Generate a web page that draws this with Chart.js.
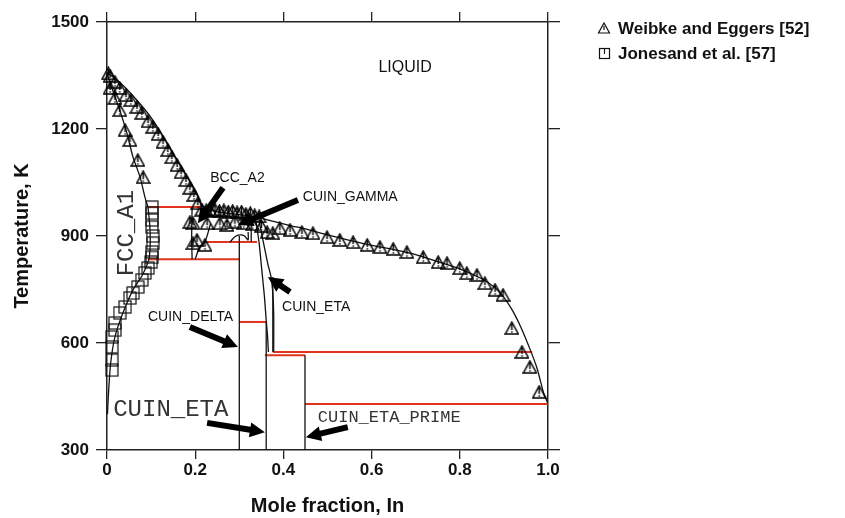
<!DOCTYPE html>
<html>
<head>
<meta charset="utf-8">
<script src="https://cdn.jsdelivr.net/npm/chart.js@4/dist/chart.umd.min.js"></script>
<style>
	html, body { margin: 0; padding: 0; background: #fff; }
	#wrap { position: relative; width: 845px; height: 518px; }
</style>
</head>
<body>
<div id="wrap"><canvas id="chart" width="845" height="518"></canvas></div>
<script>
// axis ticks
const xTicks = [0, 0.2, 0.4, 0.6, 0.8, 1.0];
const yTicks = [300, 600, 900, 1200, 1500];

// Weibke and Eggers [52] - triangles
const weibkeX = [
	0.003, 0.007, 0.018, 0.029, 0.043, 0.054, 0.068, 0.079, 0.093, 0.104, 0.116, 0.127, 0.138, 0.147, 0.159, 0.168, 0.179, 0.188, 0.197, 0.206,
	0.007, 0.018, 0.029, 0.041, 0.052, 0.070, 0.082,
	0.188, 0.195, 0.195, 0.222, 0.204,
	0.215, 0.225, 0.235, 0.245, 0.255, 0.265, 0.275, 0.285, 0.295, 0.305, 0.315, 0.325, 0.335, 0.345,
	0.227, 0.256, 0.272, 0.29, 0.31, 0.33, 0.35, 0.363, 0.376,
	0.392, 0.415, 0.442, 0.467, 0.499, 0.528, 0.558, 0.590, 0.619, 0.649, 0.680, 0.717, 0.751, 0.771, 0.800,
	0.816, 0.839, 0.857, 0.880, 0.898, 0.918, 0.941, 0.959, 0.980
];
const weibkeT = [
	1356, 1349, 1332, 1315, 1295, 1281, 1262, 1245, 1222, 1206, 1186, 1164, 1141, 1121, 1099, 1079, 1057, 1035, 1015, 992,
	1315, 1287, 1253, 1197, 1169, 1113, 1065,
	939, 936, 880, 875, 889,
	974, 972, 970, 974, 970, 972, 968, 970, 966, 968, 962, 964, 958, 955,
	936, 936, 931, 940, 936, 933, 928, 911, 908,
	922, 917, 911, 908, 897, 889, 883, 875, 869, 864, 855, 841, 827, 824, 810,
	796, 791, 768, 749, 735, 642, 575, 533, 463
];

// Jones et al. [57] - squares
const jonesX = [0.102, 0.102, 0.102, 0.102, 0.104, 0.104, 0.102, 0.102, 0.100, 0.093, 0.086, 0.079, 0.070, 0.059, 0.052, 0.041, 0.029, 0.018, 0.018, 0.011, 0.011, 0.011, 0.011];
const jonesT = [981, 964, 945, 925, 900, 880, 855, 840, 827, 810, 796, 777, 757, 740, 726, 701, 684, 656, 636, 617, 589, 552, 524];

// calculated phase boundaries
const liquidusX = [0, 0.02, 0.05, 0.1, 0.136, 0.172, 0.204, 0.215, 0.25, 0.3, 0.34, 0.38, 0.42, 0.45, 0.5, 0.55, 0.6, 0.65, 0.7, 0.75, 0.8, 0.85, 0.88, 0.9, 0.92, 0.94, 0.96, 0.975, 0.99, 1.0];
const liquidusT = [1358, 1340, 1305, 1232, 1161, 1085, 1020, 985, 968, 960, 953, 940, 928, 920, 903, 888, 874, 862, 848, 828, 808, 780, 755, 728, 690, 640, 580, 530, 460, 430];
const fccSolidusX = [0, 0.007, 0.029, 0.045, 0.059, 0.075, 0.086, 0.093];
const fccSolidusT = [1358, 1329, 1253, 1189, 1121, 1065, 1009, 981];
const fccSolvusX = [0.093, 0.097, 0.098, 0.095, 0.08, 0.059, 0.036, 0.018, 0.008, 0.003, 0.001];
const fccSolvusT = [981, 930, 880, 835, 790, 749, 684, 617, 540, 450, 400];
const bccLeftX = [0.193, 0.192, 0.193];
const bccLeftT = [981, 900, 835];
const bccRightX = [0.2, 0.21, 0.222, 0.235];
const bccRightT = [835, 868, 883, 935];
const gammaDomeX = [0.279, 0.29, 0.302, 0.312, 0.32, 0.32];
const gammaDomeT = [883, 898, 903, 900, 889, 911];
const gammaRightX = [0.327, 0.327];
const gammaRightT = [950, 883];
const deltaX = [0.30, 0.30];
const deltaT = [900, 300];
const etaLeftX = [0.338, 0.345, 0.351, 0.357, 0.361, 0.364, 0.366];
const etaLeftT = [940, 880, 805, 730, 664, 620, 575];
const etaLowX = [0.361, 0.361];
const etaLowT = [659, 300];
const etaRightX = [0.345, 0.355, 0.365, 0.372, 0.376, 0.378, 0.378];
const etaRightT = [940, 880, 820, 785, 740, 680, 575];
const etaEdgeX = [0.376, 0.376];
const etaEdgeT = [785, 575];
const etaPrimeX = [0.449, 0.449];
const etaPrimeT = [566, 300];

// invariant reactions (red)
const invariantT = [981, 883, 835, 659, 575, 566, 429];
const invariantFrom = [0.093, 0.218, 0.093, 0.30, 0.376, 0.358, 0.449];
const invariantTo = [0.21, 0.34, 0.30, 0.363, 0.964, 0.449, 1.0];

// phase labels and arrows, in data units
const labels = [
	{ text: 'LIQUID', x: 0.676, y: 1371, font: '16px "Liberation Sans", Arial, sans-serif', align: 'center' },
	{ text: 'BCC_A2', x: 0.234, y: 1063, font: '14px "Liberation Sans", Arial, sans-serif' },
	{ text: 'CUIN_GAMMA', x: 0.444, y: 1009, font: '14px "Liberation Sans", Arial, sans-serif' },
	{ text: 'CUIN_ETA', x: 0.397, y: 701, font: '14px "Liberation Sans", Arial, sans-serif' },
	{ text: 'CUIN_DELTA', x: 0.093, y: 673, font: '14px "Liberation Sans", Arial, sans-serif' },
	{ text: 'CUIN_ETA', x: 0.014, y: 412, font: '24px "Liberation Mono", monospace', color: '#333' },
	{ text: 'CUIN_ETA_PRIME', x: 0.478, y: 392, font: '17px "Liberation Mono", monospace', color: '#333' },
	{ text: 'FCC_A1', x: 0.045, y: 908, font: '24px "Liberation Mono", monospace', align: 'center', rotate: true, color: '#333' },
];
const arrows = [
	{ from: [0.263, 1035], to: [0.206, 936] },
	{ from: [0.433, 1001], to: [0.297, 931] },
	{ from: [0.415, 743], to: [0.365, 785] },
	{ from: [0.188, 645], to: [0.297, 589] },
	{ from: [0.227, 376], to: [0.358, 350] },
	{ from: [0.546, 364], to: [0.451, 336] },
];

const zip = (xs, ys) => xs.map((x, i) => ({ x, y: ys[i] }));
const FONT = '"Liberation Sans", Arial, Helvetica, sans-serif';

function triangleMark() {
	const c = document.createElement('canvas');
	c.width = 15; c.height = 14;
	const g = c.getContext('2d');
	g.strokeStyle = '#000';
	g.lineWidth = 1.5;
	g.beginPath(); g.moveTo(7.5, 1); g.lineTo(14, 13); g.lineTo(1, 13); g.closePath(); g.stroke();
	g.beginPath(); g.moveTo(7.5, 3); g.lineTo(7.5, 9); g.stroke();
	g.fillStyle = '#000';
	g.fillRect(6.8, 10.2, 1.5, 1.5);
	return c;
}

function squareMark() {
	const c = document.createElement('canvas');
	c.width = 14; c.height = 14;
	const g = c.getContext('2d');
	g.strokeStyle = '#111';
	g.lineWidth = 1.2;
	g.strokeRect(1, 1, 12, 12);
	return c;
}

function boundary(xs, ys) {
	return {
		type: 'line', data: zip(xs, ys), borderColor: '#111', borderWidth: 1.3,
		pointRadius: 0, tension: 0.25, fill: false, order: 2,
	};
}

const datasets = [
	{
		type: 'scatter', data: zip(weibkeX, weibkeT), pointStyle: triangleMark(),
		pointRadius: 7, order: 0, clip: false,
	},
	{
		type: 'scatter', data: zip(jonesX, jonesT), pointStyle: squareMark(),
		pointRadius: 7, order: 0, clip: false,
	},
	boundary(liquidusX, liquidusT),
	boundary(fccSolidusX, fccSolidusT),
	boundary(fccSolvusX, fccSolvusT),
	boundary(bccLeftX, bccLeftT),
	boundary(bccRightX, bccRightT),
	boundary(gammaDomeX, gammaDomeT),
	boundary(gammaRightX, gammaRightT),
	boundary(deltaX, deltaT),
	boundary(etaLeftX, etaLeftT),
	boundary(etaLowX, etaLowT),
	boundary(etaRightX, etaRightT),
	boundary(etaEdgeX, etaEdgeT),
	boundary(etaPrimeX, etaPrimeT),
];

invariantT.forEach((t, i) => {
	datasets.push({
		type: 'line', data: [{ x: invariantFrom[i], y: t }, { x: invariantTo[i], y: t }],
		borderColor: '#e2341d', borderWidth: 2, pointRadius: 0, order: 3,
	});
});

function drawArrow(ctx, x0, y0, x1, y1) {
	const ang = Math.atan2(y1 - y0, x1 - x0);
	const len = Math.hypot(x1 - x0, y1 - y0);
	const w = 6, h = 15, hw = 15;
	ctx.save();
	ctx.translate(x0, y0);
	ctx.rotate(ang);
	ctx.beginPath();
	ctx.moveTo(0, -w / 2);
	ctx.lineTo(len - h, -w / 2);
	ctx.lineTo(len - h, -hw / 2);
	ctx.lineTo(len, 0);
	ctx.lineTo(len - h, hw / 2);
	ctx.lineTo(len - h, w / 2);
	ctx.lineTo(0, w / 2);
	ctx.closePath();
	ctx.fillStyle = '#000';
	ctx.fill();
	ctx.restore();
}

const annotations = {
	id: 'annotations',
	afterDatasetsDraw(chart) {
		const { ctx, scales: { x, y } } = chart;
		ctx.save();
		arrows.forEach(a => {
			drawArrow(ctx, x.getPixelForValue(a.from[0]), y.getPixelForValue(a.from[1]),
				x.getPixelForValue(a.to[0]), y.getPixelForValue(a.to[1]));
		});
		ctx.textBaseline = 'middle';
		labels.forEach(l => {
			ctx.save();
			ctx.font = l.font;
			ctx.fillStyle = l.color || '#111';
			ctx.textAlign = l.align || 'left';
			ctx.translate(x.getPixelForValue(l.x), y.getPixelForValue(l.y));
			if (l.rotate) ctx.rotate(-Math.PI / 2);
			ctx.fillText(l.text, 0, 0);
			ctx.restore();
		});
		ctx.restore();
	}
};

const legendBox = {
	id: 'legendBox',
	afterDraw(chart) {
		const ctx = chart.ctx;
		ctx.save();
		ctx.strokeStyle = '#111';
		ctx.lineWidth = 1.2;
		// triangle glyph
		ctx.beginPath(); ctx.moveTo(604, 23); ctx.lineTo(609.5, 33); ctx.lineTo(598.5, 33); ctx.closePath(); ctx.stroke();
		ctx.beginPath(); ctx.moveTo(604, 26); ctx.lineTo(604, 30); ctx.stroke();
		// square glyph
		ctx.strokeRect(599.5, 48.5, 10, 10);
		ctx.beginPath(); ctx.moveTo(604.5, 49); ctx.lineTo(604.5, 54); ctx.stroke();
		ctx.fillStyle = '#111';
		ctx.font = 'bold 17px ' + FONT;
		ctx.textBaseline = 'middle';
		ctx.fillText('Weibke and Eggers [52]', 618, 29);
		ctx.fillText('Jonesand et al. [57]', 618, 54);
		ctx.restore();
	}
};

const tickFont = { family: FONT, size: 17, weight: 'bold' };
const axisColor = '#222';

new Chart(document.getElementById('chart'), {
	type: 'scatter',
	data: { datasets },
	options: {
		responsive: false,
		animation: false,
		plugins: { legend: { display: false }, tooltip: { enabled: false } },
		scales: {
			x: {
				type: 'linear', position: 'bottom', min: 0, max: 1,
				afterBuildTicks: s => { s.ticks = xTicks.map(v => ({ value: v })); },
				afterFit: s => { s.height = 68; },
				ticks: { font: tickFont, color: '#111', padding: 1, maxRotation: 0,
					callback: v => v === 0 ? '0' : v.toFixed(1) },
				grid: { drawOnChartArea: false, tickLength: 9, color: axisColor, lineWidth: 1.3 },
				border: { color: axisColor, width: 1.5 },
				title: { display: true, text: 'Mole fraction, In', color: '#111',
					font: { family: FONT, size: 20, weight: 'bold' }, padding: { top: 0, bottom: 0 } },
			},
			y: {
				type: 'linear', position: 'left', min: 300, max: 1500,
				afterBuildTicks: s => { s.ticks = yTicks.map(v => ({ value: v })); },
				afterFit: s => { s.width = 107; },
				ticks: { font: tickFont, color: '#111', padding: 7, callback: v => String(v) },
				grid: { drawOnChartArea: false, tickLength: 11, color: axisColor, lineWidth: 1.3 },
				border: { color: axisColor, width: 1.5 },
				title: { display: true, text: 'Temperature, K', color: '#111',
					font: { family: FONT, size: 20, weight: 'bold' }, padding: { top: 10, bottom: 0 } },
			},
			x2: {
				type: 'linear', position: 'top', min: 0, max: 1,
				afterBuildTicks: s => { s.ticks = xTicks.map(v => ({ value: v })); },
				afterFit: s => { s.height = 22; },
				ticks: { display: false },
				grid: { drawOnChartArea: false, tickLength: 10, color: axisColor, lineWidth: 1.3 },
				border: { color: axisColor, width: 1.5 },
			},
			y2: {
				type: 'linear', position: 'right', min: 300, max: 1500,
				afterBuildTicks: s => { s.ticks = yTicks.map(v => ({ value: v })); },
				afterFit: s => { s.width = 297; },
				ticks: { display: false },
				grid: { drawOnChartArea: false, tickLength: 12, color: axisColor, lineWidth: 1.3 },
				border: { color: axisColor, width: 1.5 },
			},
		},
	},
	plugins: [annotations, legendBox],
});
</script>
</body>
</html>
